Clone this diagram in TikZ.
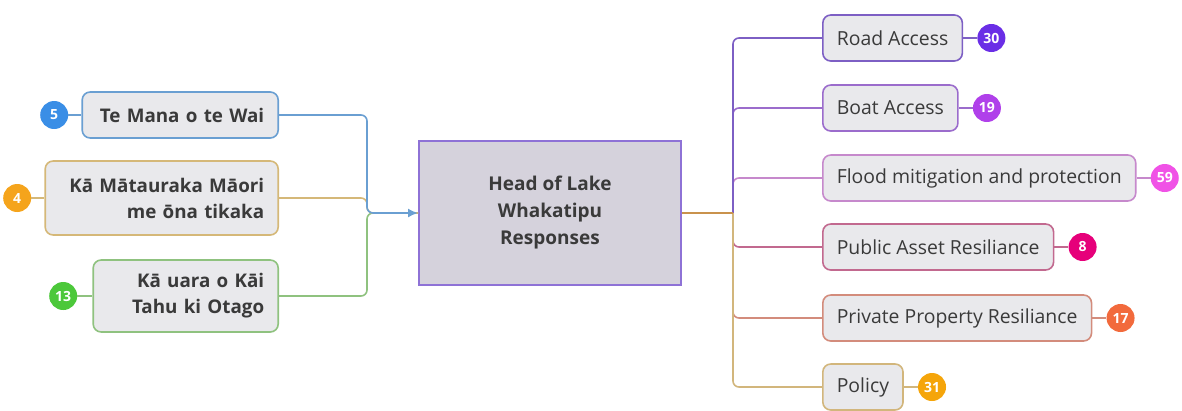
\documentclass[tikz,border=0pt]{standalone}
\usepackage{fontspec}
\setmainfont{Open Sans}
\usetikzlibrary{positioning,arrows.meta}
\definecolor{txtgray}{HTML}{3A3A3A}
\definecolor{boxgray}{HTML}{E9E9EC}
\definecolor{headfill}{HTML}{D5D2DC}
\definecolor{headedge}{HTML}{8E72D6}
\definecolor{emana}{HTML}{6A9FD2}
\definecolor{bmana}{HTML}{3A8EE6}
\definecolor{ematau}{HTML}{D5B878}
\definecolor{bmatau}{HTML}{F5A41C}
\definecolor{euara}{HTML}{8FC27F}
\definecolor{buara}{HTML}{4CC83A}
\definecolor{eroad}{HTML}{7D5FC4}
\definecolor{broad}{HTML}{6A2EE6}
\definecolor{eboat}{HTML}{9B6CCC}
\definecolor{bboat}{HTML}{B040EA}
\definecolor{eflood}{HTML}{C689CC}
\definecolor{bflood}{HTML}{F052E6}
\definecolor{epublic}{HTML}{C2698F}
\definecolor{bpublic}{HTML}{E6007A}
\definecolor{eprivate}{HTML}{D38C7C}
\definecolor{bprivate}{HTML}{F26A3C}
\definecolor{epolicy}{HTML}{D2B67C}
\definecolor{bpolicy}{HTML}{F5A50A}
\definecolor{estem}{HTML}{C9924C}
\begin{document}
\begin{tikzpicture}[x=1pt,y=-1pt,
	topic/.style={draw=#1,line width=1.6pt,fill=boxgray,rounded corners=8pt,minimum height=46pt,inner xsep=14pt,text=txtgray,font=\fontsize{19.4}{26}\selectfont},
	badge/.style={circle,fill=#1,text=white,minimum size=28pt,inner sep=0pt,font=\fontsize{14}{14}\selectfont\bfseries},
	branch/.style={draw=#1,line width=1.6pt,rounded corners=6pt}]
	\useasboundingbox (0,0) rectangle (1182,410);
	% centre
	\node [draw=headedge,line width=2pt,fill=headfill,minimum width=262pt,minimum height=144pt,align=center,text=txtgray,font=\fontsize{19}{27}\selectfont\bfseries] (head) at (550,213) {Head of Lake\\Whakatipu\\Responses};
	\coordinate (join) at (367,213);
	\coordinate (hub) at (733,213);
	% left side
	\node [topic=emana,anchor=east,text width=168pt,align=right,font=\fontsize{18.8}{26}\selectfont\bfseries] (mana) at (279,115) {Te Mana o te Wai};
	\node [topic=ematau,anchor=east,text width=205pt,align=right,minimum height=74pt,font=\fontsize{18.8}{26}\selectfont\bfseries] (matau) at (279,198) {Kā Mātauraka Māori\\me ōna tikaka};
	\node [topic=euara,anchor=east,text width=157pt,align=right,minimum height=72pt,font=\fontsize{18.8}{26}\selectfont\bfseries] (uara) at (279,296) {Kā uara o Kāi\\Tahu ki Otago};
	\node [badge=bmana,left=13pt of mana] (nmana) {5};
	\node [badge=bmatau,left=13pt of matau] (nmatau) {4};
	\node [badge=buara,left=15pt of uara] (nuara) {13};
	\draw [emana,line width=1.6pt] (nmana) -- (mana);
	\draw [ematau,line width=1.6pt] (nmatau) -- (matau);
	\draw [euara,line width=1.6pt] (nuara) -- (uara);
	\draw [branch=euara] (uara.east) -| (join) -- (head.west);
	\draw [branch=ematau] (matau.east) -| (join) -- (head.west);
	\draw [branch=emana,-{Latex[length=10pt,width=9pt]}] (mana.east) -| (join) -- (head.west);
	% right side
	\foreach \nm/\yy/\txt/\edge/\dot/\num in {road/38/Road Access/eroad/broad/30,
		boat/108/Boat Access/eboat/bboat/19,
		flood/178/Flood mitigation and protection/eflood/bflood/59,
		public/247/Public Asset Resiliance/epublic/bpublic/8,
		private/318/Private Property Resiliance/eprivate/bprivate/17,
		policy/387/Policy/epolicy/bpolicy/31}{
	\node [topic=\edge,anchor=west] (\nm) at (822,\yy) {\txt};
	\node [badge=\dot,right=14pt of \nm] (n\nm) {\num};
	\draw [\edge,line width=1.6pt] (\nm) -- (n\nm);
	}
	\draw [branch=eflood] (hub) |- (flood.west);
	\draw [branch=eboat] (hub) |- (boat.west);
	\draw [branch=eroad] (hub) |- (road.west);
	\draw [branch=epublic] (hub) |- (public.west);
	\draw [branch=eprivate] (hub) |- (private.west);
	\draw [branch=epolicy] (hub) |- (policy.west);
	\draw [estem,line width=1.6pt] (head.east) -- (hub);
\end{tikzpicture}
\end{document}
